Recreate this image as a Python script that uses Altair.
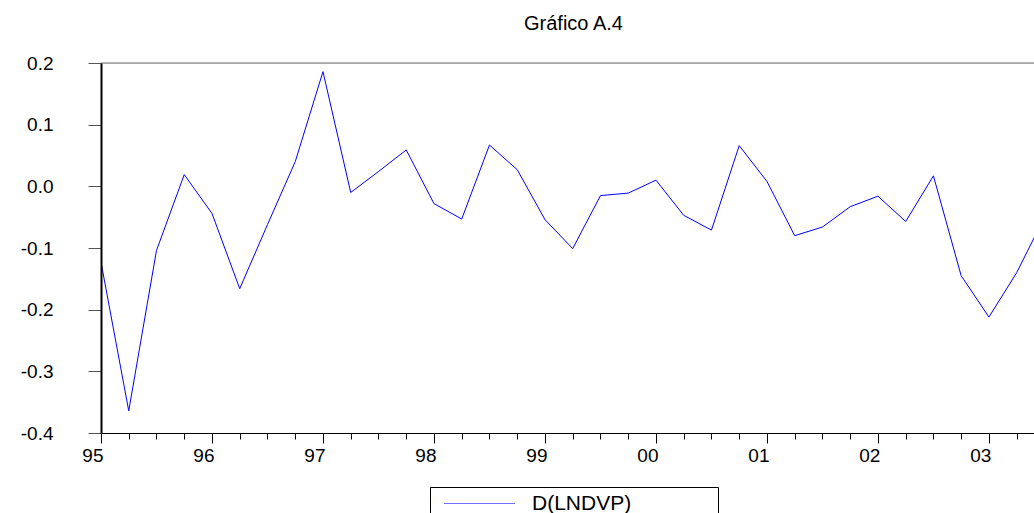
import altair as alt
import pandas as pd

# Quarterly periods and values
periods = [
    "1995Q1", "1995Q2", "1995Q3", "1995Q4",
    "1996Q1", "1996Q2", "1996Q3", "1996Q4",
    "1997Q1", "1997Q2", "1997Q3", "1997Q4",
    "1998Q1", "1998Q2", "1998Q3", "1998Q4",
    "1999Q1", "1999Q2", "1999Q3", "1999Q4",
    "2000Q1", "2000Q2", "2000Q3", "2000Q4",
    "2001Q1", "2001Q2", "2001Q3", "2001Q4",
    "2002Q1", "2002Q2", "2002Q3", "2002Q4",
    "2003Q1", "2003Q2", "2003Q3",
]
values = [
    -0.123, -0.364, -0.104, 0.019,
    -0.044, -0.166, -0.062, 0.040,
    0.186, -0.010, 0.024, 0.059,
    -0.028, -0.053, 0.067, 0.027,
    -0.054, -0.101, -0.015, -0.011,
    0.010, -0.047, -0.071, 0.066,
    0.008, -0.080, -0.066, -0.033,
    -0.016, -0.057, 0.017, -0.145,
    -0.212, -0.140, -0.050,
]
series_name = "D(LNDVP)"
y_ticks = [-0.4, -0.3, -0.2, -0.1, 0.0, 0.1, 0.2]
base_year = 1995
x_max = 8.406  # visible end of the time axis (years after 1995Q1)

t = [(int(p[:4]) - base_year) + (int(p[-1]) - 1) / 4 for p in periods]
df = pd.DataFrame({"t": t, "v": values, "series": series_name})
quarter_ticks = [q / 4 for q in range(int(x_max * 4) + 1)]

FONT = "Liberation Sans"
# legend sample: a thin horizontal bar; the trailing move-to (draws nothing)
# widens the legend frame to the right like the reference's box
LEGEND_SYMBOL = "M-4.4375,-0.0625H4.4375V0.0625H-4.4375ZM29.0,0"

x_scale = alt.Scale(domain=[0, x_max], nice=False, zero=False)
y_scale = alt.Scale(domain=[min(y_ticks), max(y_ticks)], nice=False, zero=False)

x_axis = alt.Axis(
    values=quarter_ticks,
    tickSize={"condition": {"test": "datum.value % 1 === 0", "value": 10}, "value": 6},
    labelExpr="datum.value % 1 === 0 ? format((95 + datum.value) % 100, '02d') : ''",
    labelAlign="right",
    labelBaseline="top",
    labelOffset=2,
    labelPadding=3,
    labelFont=FONT,
    labelFontSize=19,
    labelColor="black",
    labelOverlap=False,
    labelFlush=False,
    domainColor="black",
    domainWidth=1,
    tickColor="black",
    tickWidth=1,
    grid=False,
    title=None,
    zindex=1,
)

y_axis = alt.Axis(
    values=y_ticks,
    labelExpr="datum.value < 0 ? '-' + format(-datum.value, '.1f') : format(datum.value, '.1f')",
    tickSize=13,
    labelPadding=35,
    labelFont=FONT,
    labelFontSize=19,
    labelColor="black",
    labelAlign="right",
    labelBaseline="middle",
    labelFlush=False,
    labelOverlap=False,
    domainColor="black",
    domainWidth=2,
    tickColor="#555555",
    tickWidth=1,
    grid=False,
    title=None,
    zindex=1,
)

top_border = alt.Chart(pd.DataFrame({"v": [max(y_ticks)]})).mark_rule(
    color="#707070", strokeWidth=1
).encode(y=alt.Y("v:Q", scale=y_scale, axis=y_axis))

line = alt.Chart(df).mark_line(strokeWidth=1, clip=True).encode(
    x=alt.X("t:Q", scale=x_scale, axis=x_axis),
    y=alt.Y("v:Q", scale=y_scale, axis=y_axis),
    color=alt.Color(
        "series:N",
        scale=alt.Scale(range=["#0000ff"]),
        legend=alt.Legend(
            title=None,
            orient="none",
            legendX=329,
            legendY=424,
            strokeColor="black",
            fillColor="white",
            padding=6,
            cornerRadius=0,
            symbolType=LEGEND_SYMBOL,
            symbolSize=256,
            symbolStrokeWidth=0,
            symbolStrokeColor="transparent",
            symbolFillColor="#7070ff",
            symbolOpacity=1,
            symbolOffset=33,
            labelOffset=42,
            labelFont=FONT,
            labelFontSize=21,
            labelColor="black",
            labelLimit=500,
        ),
    ),
)

chart = alt.layer(top_border, line).properties(
    width=933,
    height=370,
    padding={"left": 101, "top": 63, "right": 0, "bottom": 80},
    autosize=alt.AutoSizeParams(type="none"),
    title=alt.TitleParams(
        "Gráfico A.4",
        font=FONT,
        fontSize=20,
        fontWeight="normal",
        color="black",
        anchor="middle",
        frame="group",
        baseline="alphabetic",
        offset=4,
        dx=6,
    ),
).configure_view(stroke=None).configure(background="white")

chart.save("out.html", embed_options={"renderer": "svg", "actions": False})
